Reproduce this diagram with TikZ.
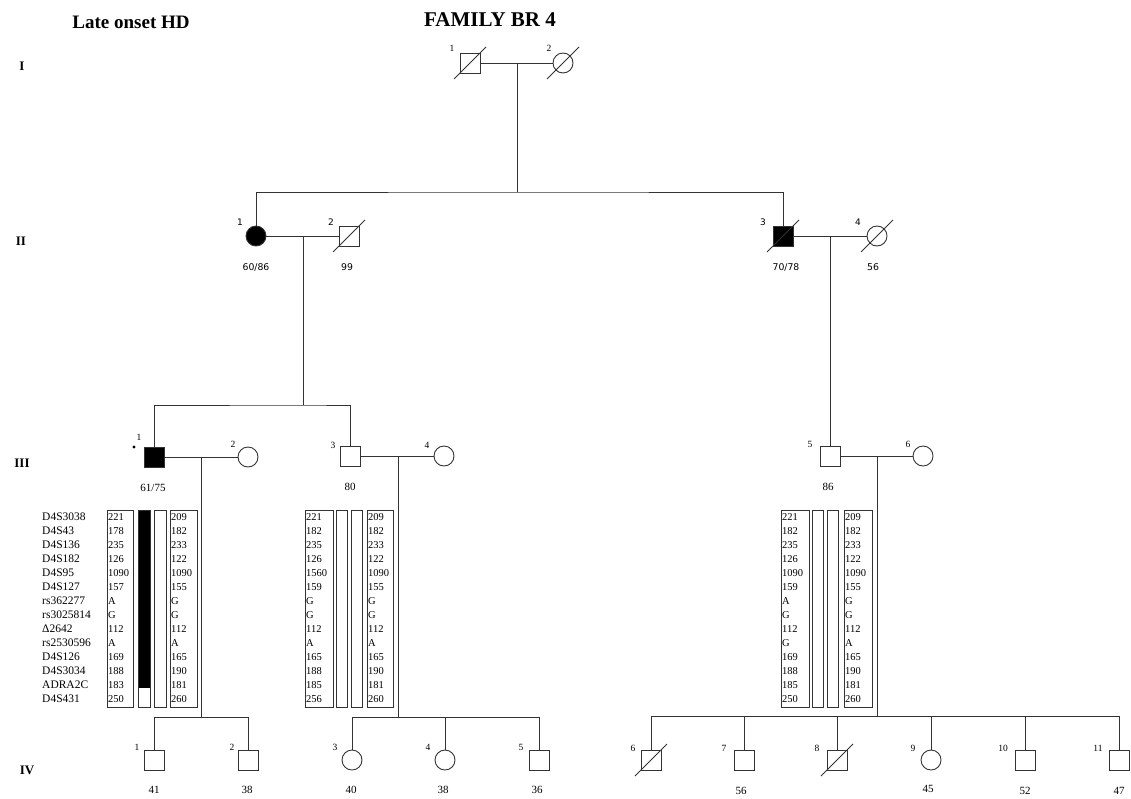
\documentclass[tikz,border=0pt]{standalone}
\usepackage{fontspec}
\setmainfont{Liberation Serif}
\newfontfamily\agesf{DejaVu Sans}
\begin{document}
\begin{tikzpicture}[x=1pt,y=-1pt,
  ped/.style={draw=black!80, line width=0.9pt},
  sq/.style={draw=black!80, line width=0.9pt, rectangle, minimum size=20pt, inner sep=0pt, fill=white},
  ci/.style={draw=black!80, line width=0.9pt, circle, minimum size=20pt, inner sep=0pt, fill=white},
  aff/.style={fill=black},
  idl/.style={font=\fontsize{9.5}{9.5}\selectfont, inner sep=0pt},
  idls/.style={font=\agesf\fontsize{9}{9}\selectfont, inner sep=0pt},
  age/.style={font=\fontsize{11}{11}\selectfont, inner sep=0pt},
  ages/.style={font=\agesf\fontsize{9.3}{9.3}\selectfont, inner sep=0pt},
  gen/.style={font=\bfseries\fontsize{13}{13}\selectfont, inner sep=0pt},
  hap/.style={font=\fontsize{10.5}{10.5}\selectfont, inner sep=0pt, anchor=west},
  mk/.style={font=\fontsize{11.5}{11.5}\selectfont, inner sep=0pt, anchor=west},
  hbox/.style={draw=black!80, line width=0.9pt},
]
\useasboundingbox (0,0) rectangle (1131,798);
\newcommand\deadmark[1]{\draw[ped] ([shift={(-16,16)}]#1.center) -- ([shift={(16,-16)}]#1.center);}

% titles
\node[font=\bfseries\fontsize{19}{19}\selectfont, inner sep=0pt] (t1) at (131,22) {Late onset HD};
\node[font=\bfseries\fontsize{21}{21}\selectfont, inner sep=0pt] (t2) at (490,20) {FAMILY BR 4};

% generation numerals
\node[gen] (gI) at (22,66) {I};
\node[gen] (gII) at (21,241) {II};
\node[gen] (gIII) at (22,463) {III};
\node[gen] (gIV) at (27,770) {IV};

% ---------- Generation I
\node[sq] (I1) at (470,63) {};
\node[ci] (I2) at (563,63) {};
\deadmark{I1}\deadmark{I2}
\node[idl] (lI1) at (452,48) {1};
\node[idl] (lI2) at (549,48) {2};
\draw[ped] (I1) -- (I2);
\coordinate (m1) at (517,63);
\coordinate (s1) at (517,192);
\draw[ped] (m1) -- (s1);

% ---------- Generation II
\node[ci, aff] (II1) at (256,236) {};
\node[sq] (II2) at (349,236) {};
\node[sq, aff] (II3) at (783,236) {};
\node[ci] (II4) at (877,236) {};
\deadmark{II2}\deadmark{II3}\deadmark{II4}
\node[idls] (lII1) at (240,222) {1};
\node[idls] (lII2) at (331,222) {2};
\node[idls] (lII3) at (763,222) {3};
\node[idls] (lII4) at (858,222) {4};
\node[ages] (aII1) at (256,267) {60/86};
\node[ages] (aII2) at (347,267) {99};
\node[ages] (aII3) at (786,267) {70/78};
\node[ages] (aII4) at (873,267) {56};
\draw[ped] (II1.north) |- (s1) -| (II3.north);
\draw[ped] (II1) -- (II2);
\draw[ped] (II3) -- (II4);
\coordinate (m2a) at (303,236);
\coordinate (s2a) at (303,405);
\coordinate (m2b) at (830,236);

% ---------- Generation III
\node[sq, aff] (III1) at (154,457) {};
\node[ci] (III2) at (248,457) {};
\node[sq] (III3) at (350,456) {};
\node[ci] (III4) at (444,456) {};
\node[sq] (III5) at (830,456) {};
\node[ci] (III6) at (923,456) {};
\fill (134,447) circle (1.6);
\node[idl] (lIII1) at (139,437) {1};
\node[idl] (lIII2) at (233,444) {2};
\node[idl] (lIII3) at (333,445) {3};
\node[idl] (lIII4) at (427,445) {4};
\node[idl] (lIII5) at (810,444) {5};
\node[idl] (lIII6) at (908,444) {6};
\node[age] (aIII1) at (153,488) {61/75};
\node[age] (aIII3) at (350,487) {80};
\node[age] (aIII5) at (828,487) {86};
\draw[ped] (m2a) -- (s2a);
\draw[ped] (III1.north) |- (s2a) -| (III3.north);
\draw[ped] (m2b) -- (III5.north);
\draw[ped] (III1) -- (III2);
\draw[ped] (III3) -- (III4);
\draw[ped] (III5) -- (III6);
\coordinate (m3a) at (201,457);
\coordinate (s3a) at (201,717);
\coordinate (m3b) at (398,456);
\coordinate (s3b) at (398,717);
\coordinate (m3c) at (877,456);
\coordinate (s3c) at (877,716);
\draw[ped] (m3a) -- (s3a);
\draw[ped] (m3b) -- (s3b);
\draw[ped] (m3c) -- (s3c);

% ---------- haplotypes
\foreach \v [count=\i from 0] in {D4S3038,D4S43,D4S136,D4S182,D4S95,D4S127,rs362277,rs3025814,{\symbol{"0394}2642},rs2530596,D4S126,D4S3034,ADRA2C,D4S431}
  \node[mk] (mk\i) at (42,{517+14*\i}) {\v};
% III-1
\draw[hbox] (107,510) rectangle (133,707);
\fill[black] (138,510) rectangle (150,688);
\draw[hbox] (138,510) rectangle (150,707);
\draw[hbox] (154,510) rectangle (166,707);
\draw[hbox] (170,510) rectangle (197,707);
\foreach \v [count=\i from 0] in {221,178,235,126,1090,157,A,G,112,A,169,188,183,250}
  \node[hap] (ha\i) at (108,{517+14*\i}) {\v};
\foreach \v [count=\i from 0] in {209,182,233,122,1090,155,G,G,112,A,165,190,181,260}
  \node[hap] (hb\i) at (171,{517+14*\i}) {\v};
% III-3
\draw[hbox] (305,510) rectangle (333,707);
\draw[hbox] (336,510) rectangle (347,707);
\draw[hbox] (351,510) rectangle (362,707);
\draw[hbox] (367,510) rectangle (393,707);
\foreach \v [count=\i from 0] in {221,182,235,126,1560,159,G,G,112,A,165,188,185,256}
  \node[hap] (hc\i) at (306,{517+14*\i}) {\v};
\foreach \v [count=\i from 0] in {209,182,233,122,1090,155,G,G,112,A,165,190,181,260}
  \node[hap] (hd\i) at (368,{517+14*\i}) {\v};
% III-5
\draw[hbox] (781,510) rectangle (809,707);
\draw[hbox] (812,510) rectangle (823,707);
\draw[hbox] (827,510) rectangle (838,707);
\draw[hbox] (844,510) rectangle (872,707);
\foreach \v [count=\i from 0] in {221,182,235,126,1090,159,A,G,112,G,169,188,185,250}
  \node[hap] (he\i) at (782,{517+14*\i}) {\v};
\foreach \v [count=\i from 0] in {209,182,233,122,1090,155,G,G,112,A,165,190,181,260}
  \node[hap] (hf\i) at (845,{517+14*\i}) {\v};

% ---------- Generation IV
\node[sq] (IV1) at (154,760) {};
\node[sq] (IV2) at (248,760) {};
\node[ci] (IV3) at (352,760) {};
\node[ci] (IV4) at (445,760) {};
\node[sq] (IV5) at (539,760) {};
\node[sq] (IV6) at (651,760) {};
\node[sq] (IV7) at (744,760) {};
\node[sq] (IV8) at (837,760) {};
\node[ci] (IV9) at (931,760) {};
\node[sq] (IV10) at (1025,760) {};
\node[sq] (IV11) at (1119,760) {};
\deadmark{IV6}\deadmark{IV8}
\node[idl] (lIV1) at (137,747) {1};
\node[idl] (lIV2) at (232,747) {2};
\node[idl] (lIV3) at (335,747) {3};
\node[idl] (lIV4) at (428,747) {4};
\node[idl] (lIV5) at (521,747) {5};
\node[idl] (lIV6) at (633,748) {6};
\node[idl] (lIV7) at (724,748) {7};
\node[idl] (lIV8) at (817,748) {8};
\node[idl] (lIV9) at (913,748) {9};
\node[idl] (lIV10) at (1003,748) {10};
\node[idl] (lIV11) at (1098,748) {11};
\node[age] (aIV1) at (154,790) {41};
\node[age] (aIV2) at (247,790) {38};
\node[age] (aIV3) at (351,790) {40};
\node[age] (aIV4) at (443,790) {38};
\node[age] (aIV5) at (537,790) {36};
\node[age] (aIV7) at (741,791) {56};
\node[age] (aIV9) at (928,789) {45};
\node[age] (aIV10) at (1025,791) {52};
\node[age] (aIV11) at (1119,791) {47};
\draw[ped] (IV1.north) |- (s3a) -| (IV2.north);
\draw[ped] (IV3.north) |- (s3b) -| (IV5.north);
\draw[ped] (IV4.north) -- (IV4.north |- s3b);
\draw[ped] (IV6.north) |- (s3c) -| (IV11.north);
\foreach \c in {IV7,IV8,IV9,IV10}
  \draw[ped] (\c.north) -- (\c.north |- s3c);
\end{tikzpicture}
\end{document}
